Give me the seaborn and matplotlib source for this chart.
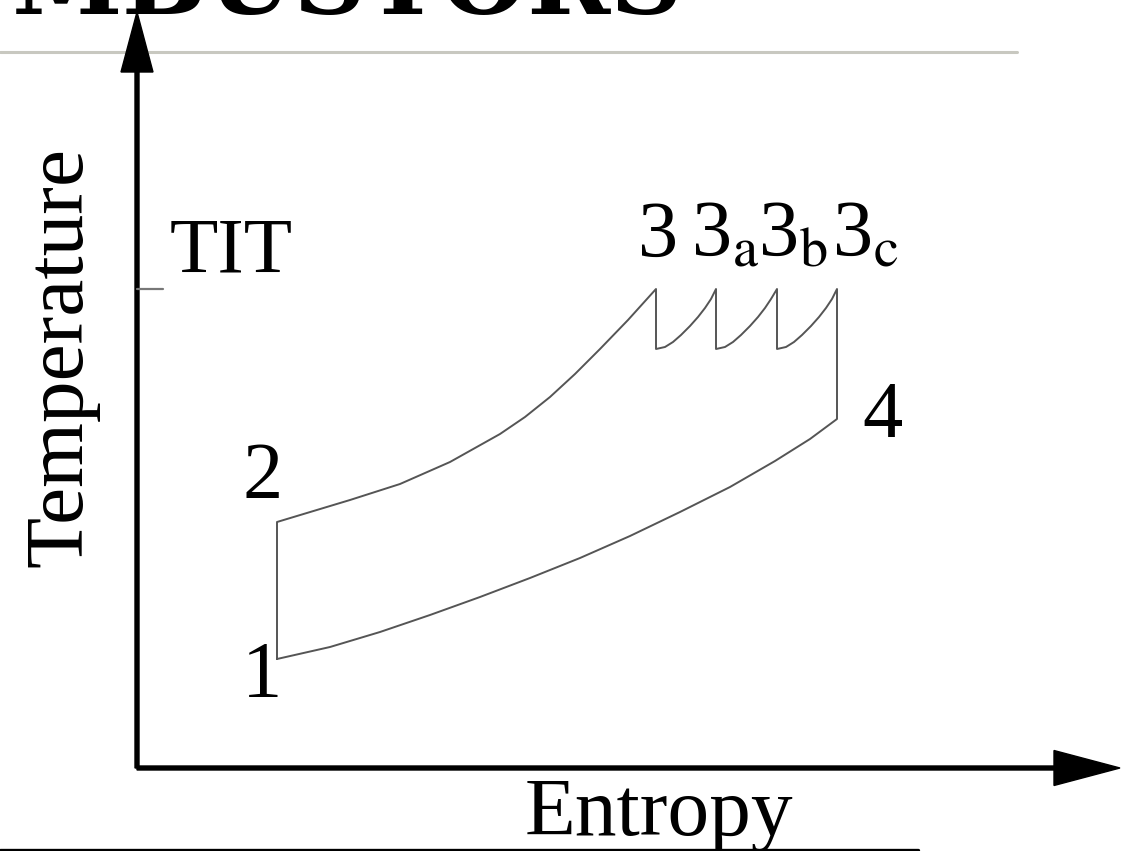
import matplotlib
matplotlib.use("Agg")
import matplotlib.pyplot as plt
import seaborn as sns
import pandas as pd

# Diagrama T-s del ciclo con recalentamiento escalonado (unidades arbitrarias)
compresion_s = [1.40, 1.40]
compresion_T = [1.09, 2.46]

combustion_s = [1.40, 2.13, 2.63, 3.13, 3.63, 3.88, 4.13, 4.38, 4.63, 4.91, 5.19]
combustion_T = [2.46, 2.68, 2.84, 3.06, 3.34, 3.51, 3.71, 3.94, 4.19, 4.48, 4.79]

# expansiones y recalentamientos (3 -> 3a -> 3b -> 3c)
etapa1_s = [5.19, 5.19, 5.28, 5.36, 5.44, 5.53, 5.61, 5.68, 5.74, 5.79]
etapa1_T = [4.79, 4.19, 4.21, 4.26, 4.33, 4.42, 4.51, 4.60, 4.69, 4.79]
etapa2_s = [5.79, 5.79, 5.88, 5.96, 6.04, 6.13, 6.21, 6.28, 6.34, 6.40]
etapa2_T = [4.79, 4.19, 4.21, 4.26, 4.33, 4.42, 4.51, 4.60, 4.69, 4.79]
etapa3_s = [6.40, 6.40, 6.49, 6.57, 6.65, 6.74, 6.82, 6.89, 6.95, 7.00]
etapa3_T = [4.79, 4.19, 4.21, 4.26, 4.33, 4.42, 4.51, 4.60, 4.69, 4.79]

expansion_s = [7.00, 7.00]
expansion_T = [4.79, 3.49]

escape_s = [7.00, 6.73, 6.38, 5.93, 5.43, 4.93, 4.43, 3.93, 3.43, 2.93, 2.43, 1.93, 1.40]
escape_T = [3.49, 3.29, 3.07, 2.81, 2.56, 2.32, 2.10, 1.90, 1.71, 1.53, 1.36, 1.21, 1.09]

TIT = 4.79

etiquetas = ['1', '2', '3', '3$_\\mathrm{a}$', '3$_\\mathrm{b}$', '3$_\\mathrm{c}$', '4']
etiquetas_s = [1.05, 1.05, 5.01, 5.54, 6.21, 6.95, 7.25]
etiquetas_T = [0.71, 2.70, 5.11, 5.11, 5.11, 5.11, 3.31]

sns.set_theme(style='white')
plt.rcParams['font.family'] = ['Liberation Serif', 'DejaVu Serif']
plt.rcParams['mathtext.fontset'] = 'stix'

fig = plt.figure(figsize=(11.21, 8.51), dpi=100)
ax = fig.add_axes([0, 0, 1, 1])
ax.set_xlim(-1.37, 9.84)
ax.set_ylim(-0.83, 7.68)
ax.axis('off')

# ciclo
partes = [
    (compresion_s, compresion_T),
    (combustion_s, combustion_T),
    (etapa1_s, etapa1_T),
    (etapa2_s, etapa2_T),
    (etapa3_s, etapa3_T),
    (expansion_s, expansion_T),
    (escape_s, escape_T),
]
filas = []
for s_vals, T_vals in partes:
    for s, T in zip(s_vals, T_vals):
        filas.append({'s': s, 'T': T})
df = pd.DataFrame(filas)
sns.lineplot(data=df, x='s', y='T', sort=False, estimator=None,
             color='#555555', lw=1.4, ax=ax)

# ejes con flechas
ax.arrow(0, 0, 9.83, 0, width=0.04, head_width=0.35, head_length=0.66,
         length_includes_head=True, color='black')
ax.arrow(0, 0, 0, 7.56, width=0.04, head_width=0.32, head_length=0.60,
         length_includes_head=True, color='black')
ax.plot([0, 0.26], [TIT, TIT], color='#777777', lw=1.6)

# lineas de la diapositiva
ax.plot([-1.37, 8.80], [7.16, 7.16], color='#c8c8c0', lw=2.2, zorder=0)
ax.plot([-1.37, 7.81], [-0.82, -0.82], color='black', lw=2.4)
ax.text(-1.25, 7.54, 'MBUSTORS', fontsize=72, family='DejaVu Serif',
        fontweight='bold', ha='left', va='baseline', color='black')

# textos
ax.text(-0.75, 4.11, 'Temperature', fontsize=60, rotation=90,
        ha='center', va='center', color='black')
ax.text(5.22, -0.67, 'Entropy', fontsize=60, ha='center', va='baseline',
        color='black')
ax.text(0.33, 4.96, 'TIT', fontsize=57, ha='left', va='baseline', color='black')
for lab, s, T in zip(etiquetas, etiquetas_s, etiquetas_T):
    ax.text(s, T, lab, fontsize=58, ha='left', va='baseline', color='black')

fig.savefig('out.png', dpi=100)
plt.close(fig)
